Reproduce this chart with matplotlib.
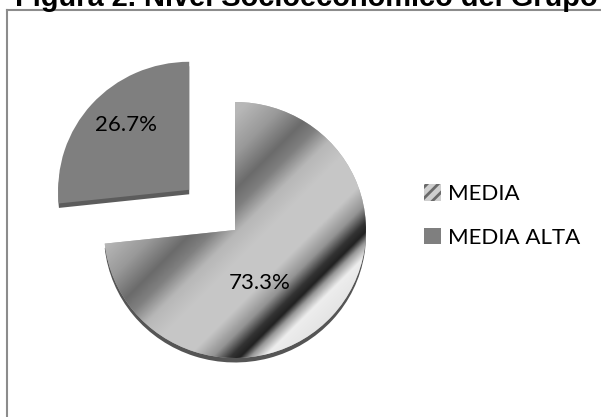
import numpy as np
import matplotlib
matplotlib.use("Agg")
import matplotlib.pyplot as plt
from matplotlib.patches import Wedge, Patch
from matplotlib.lines import Line2D

# Data
categories = ["MEDIA", "MEDIA ALTA"]
percentages = [73.3, 26.7]
title_text = "Figura 2. Nivel Socioeconómico del Grupo"

W, H = 601, 417
fig = plt.figure(figsize=(W / 100, H / 100), dpi=100)
fig.patch.set_facecolor("white")

# Chart frame (top and left edges)
frame_kw = dict(color="#8c8c8c", lw=1.5, transform=fig.transFigure)
fig.add_artist(Line2D([6.5 / W, 1.0], [1 - 9.5 / H, 1 - 9.5 / H], **frame_kw))
fig.add_artist(Line2D([6.5 / W, 6.5 / W], [0, 1 - 9.5 / H], **frame_kw))

fig.text(15 / W, 1 - 6 / H, title_text, family="Liberation Sans",
         weight="bold", fontsize=20.9, va="baseline", ha="left")

# Pie axes: centre at (235, 230) px, slightly flattened
ax = fig.add_axes([0, 0, 1, 1])
ax.axis("off")
cx, cy = 235.0, 230.0
sx, sy = 131.0, 128.0

wedges, _ = ax.pie(percentages, startangle=90, counterclock=False,
                   explode=[0, 0.47], colors=["#b0b0b0", "#7f7f7f"],
                   wedgeprops=dict(linewidth=0))

# 3D rim under each slice
rim_colors = ["#555555", "#5c5c5c"]
for w, rc in zip(wedges, rim_colors):
    rim = Wedge((w.center[0], w.center[1] - 0.035), w.r, w.theta1, w.theta2,
                facecolor=rc, linewidth=0, zorder=w.get_zorder() - 0.5)
    ax.add_patch(rim)

# Metallic gradient fill for the main slice
stops_s = [300, 350, 390, 425, 445, 470, 500, 545, 570, 588, 598, 608, 622, 660, 720]
stops_v = [0.74, 0.72, 0.60, 0.42, 0.50, 0.72, 0.78, 0.78, 0.58, 0.20, 0.13, 0.60, 0.93, 0.88, 0.80]
gx = np.linspace(-1.05, 1.05, 500)
gy = np.linspace(-1.05, 1.05, 500)
X, Y = np.meshgrid(gx, gy)
s = (cx + sx * X) + (cy - sy * Y)
g = np.interp(s, stops_s, stops_v)
img = np.dstack([g, g, g])
im = ax.imshow(img, extent=(-1.05, 1.05, -1.05, 1.05), origin="lower",
               zorder=wedges[0].get_zorder() + 0.1, interpolation="bilinear")
im.set_clip_path(wedges[0])

ax.set_aspect("auto")
ax.set_xlim(-cx / sx, (W - cx) / sx)
ax.set_ylim(cy / sy - H / sy, cy / sy)

# Percentage labels
label_pos = [((260 - cx) / sx, (cy - 283) / sy), ((126 - cx) / sx, (cy - 125) / sy)]
for (lx, ly), p in zip(label_pos, percentages):
    ax.text(lx, ly, f"{p:.1f}%", family="Lato", fontsize=16,
            ha="center", va="center", zorder=10)

# Legend
plt.rcParams["hatch.linewidth"] = 2.0
handles = [Patch(facecolor="#cfcfcf", edgecolor="#6a6a6a", hatch="///", linewidth=0),
           Patch(facecolor="#7f7f7f", linewidth=0)]
ax.legend(handles, categories, loc="center left",
          bbox_to_anchor=(424 / W, 1 - 216 / H), frameon=False,
          prop=dict(family="Lato", size=16), handlelength=0.75,
          handleheight=0.75, handletextpad=0.35, labelspacing=1.05,
          borderaxespad=0, borderpad=0)

fig.savefig("out.png", dpi=100, facecolor="white")
